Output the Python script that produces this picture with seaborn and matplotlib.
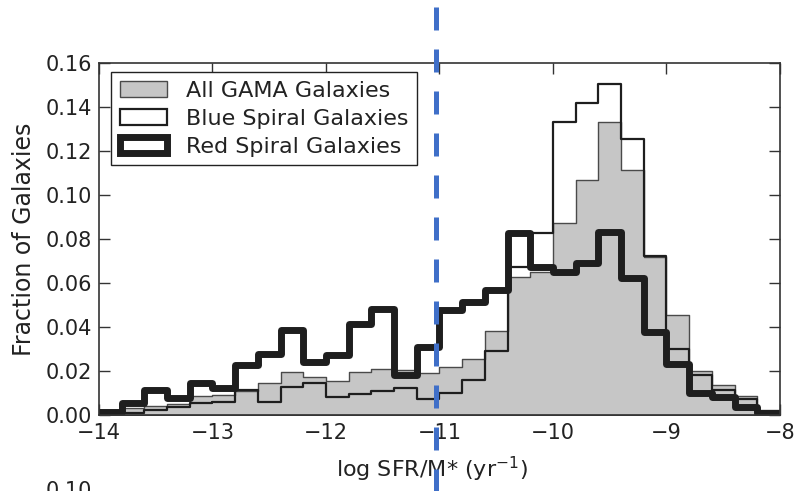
import numpy as np
import pandas as pd
import matplotlib
matplotlib.use("Agg")
import matplotlib.pyplot as plt
from matplotlib.patches import Patch
import seaborn as sns

# Histogram range in log sSFR: 30 bins of 0.2 dex
x_min, x_max, n_bins = -14.0, -8.0, 30
bin_edges = np.linspace(x_min, x_max, n_bins + 1)
bin_centers = 0.5 * (bin_edges[:-1] + bin_edges[1:])

# Fraction of galaxies per bin
all_gama = [0.0003, 0.0033, 0.0042, 0.0050, 0.0085, 0.0090, 0.0110, 0.0144, 0.0194, 0.0174,
            0.0155, 0.0194, 0.0209, 0.0205, 0.0190, 0.0217, 0.0255, 0.0382, 0.0629, 0.0652,
            0.0875, 0.1068, 0.1333, 0.1114, 0.0720, 0.0455, 0.0202, 0.0136, 0.0088, 0.0023]
blue_spirals = [0.0000, 0.0010, 0.0023, 0.0035, 0.0055, 0.0060, 0.0114, 0.0060, 0.0126, 0.0144,
                0.0080, 0.0095, 0.0108, 0.0122, 0.0072, 0.0098, 0.0159, 0.0290, 0.0674, 0.0827,
                0.1333, 0.1420, 0.1505, 0.1255, 0.0723, 0.0299, 0.0182, 0.0114, 0.0073, 0.0005]
red_spirals = [0.0015, 0.0055, 0.0112, 0.0076, 0.0144, 0.0121, 0.0226, 0.0276, 0.0388, 0.0240,
               0.0271, 0.0415, 0.0483, 0.0180, 0.0308, 0.0477, 0.0512, 0.0567, 0.0826, 0.0674,
               0.0649, 0.0690, 0.0833, 0.0621, 0.0376, 0.0232, 0.0098, 0.0083, 0.0038, 0.0010]

series_labels = ["All GAMA Galaxies", "Blue Spiral Galaxies", "Red Spiral Galaxies"]
x_ticks = [-14, -13, -12, -11, -10, -9, -8]
y_ticks = [0.00, 0.02, 0.04, 0.06, 0.08, 0.10, 0.12, 0.14, 0.16]
cut_value = -11.03

df = pd.DataFrame({
    "ssfr": bin_centers,
    "all": all_gama,
    "blue": blue_spirals,
    "red": red_spirals,
})

sns.set_theme(style="white")
plt.rcParams["font.family"] = ["DejaVu Sans"]

fig = plt.figure(figsize=(7.96, 4.91), dpi=100)
ax = fig.add_axes([99 / 796, 76 / 491, 681 / 796, 352 / 491])

gray = "#c6c6c6"
ink = "#1e1e1e"
hist_kws = dict(x="ssfr", bins=n_bins, binrange=(x_min, x_max), element="step", ax=ax)

sns.histplot(data=df, weights="all", fill=True, color=gray, alpha=1.0,
             edgecolor="#4a4a4a", linewidth=1.0, **hist_kws)
sns.histplot(data=df, weights="blue", fill=False, color=ink, linewidth=1.6, **hist_kws)
sns.histplot(data=df, weights="red", fill=False, color=ink, linewidth=5.0, **hist_kws)

# Dashed cut running through the full figure height
ax.axvline(cut_value, ymin=-0.336, ymax=1.3, clip_on=False, color="#3f6fc8",
           linewidth=3.6, linestyle=(0, (4.6, 3.8)), zorder=10)

ax.set_xlim(x_min, x_max)
ax.set_ylim(0, 0.16)
ax.set_xticks(x_ticks)
ax.set_yticks(y_ticks)
ax.set_xticklabels([f"\u2212{abs(v)}" for v in x_ticks])
ax.set_yticklabels([f"{v:.2f}" for v in y_ticks])
ax.tick_params(direction="in", length=8, width=1, colors="#333333", labelcolor="#222222",
               labelsize=15, top=True, right=True, bottom=True, left=True)
ax.tick_params(axis="x", pad=6)
ax.tick_params(axis="y", pad=5)

for sp in ax.spines.values():
    sp.set_visible(True)
    sp.set_color("#333333")
    sp.set_linewidth(1.2)

ax.set_xlabel("log SFR/M* (yr$^{-1}$)", fontsize=16, color="#222222")
ax.xaxis.set_label_coords(0.489, -0.112)
ax.set_ylabel("Fraction of Galaxies", fontsize=17, color="#222222", labelpad=7)

handles = [
    Patch(facecolor=gray, edgecolor="#4a4a4a", linewidth=1.0),
    Patch(facecolor="white", edgecolor=ink, linewidth=1.6),
    Patch(facecolor="white", edgecolor=ink, linewidth=5.0),
]
leg = ax.legend(handles, series_labels, loc="upper left", bbox_to_anchor=(0.018, 0.974),
                borderaxespad=0, fontsize=16, frameon=True, fancybox=False, framealpha=1,
                handlelength=2.1, handleheight=0.75, handletextpad=0.85,
                labelspacing=0.35, borderpad=0.4)
leg.get_frame().set_edgecolor("#222222")
leg.get_frame().set_linewidth(1.0)
for t in leg.get_texts():
    t.set_color("#222222")

# Top of the next panel's first tick label
fig.text(92 / 796, 1 - 481 / 491, "0.10", ha="right", va="top", fontsize=15, color="#222222")

fig.savefig("out.png", dpi=100)
